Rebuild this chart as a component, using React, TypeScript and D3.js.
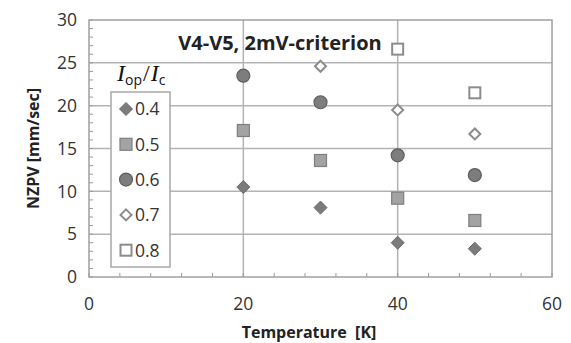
import React from "react";
import * as d3 from "d3";

const temperatures = [20, 30, 40, 50];
const ratios = ["0.4", "0.5", "0.6", "0.7", "0.8"];
const nzpv04 = [10.5, 8.1, 4.0, 3.3];
const nzpv05 = [17.1, 13.6, 9.2, 6.6];
const nzpv06 = [23.5, 20.4, 14.2, 11.9];
const nzpv07 = [null, 24.6, 19.5, 16.7];
const nzpv08 = [null, null, 26.6, 21.5];
const xTicks = [0, 20, 40, 60];
const yTicks = [0, 5, 10, 15, 20, 25, 30];
const seriesValues = [nzpv04, nzpv05, nzpv06, nzpv07, nzpv08];

type Shape = "diamond" | "square" | "circle" | "odiamond" | "osquare";
const shapes: Shape[] = ["diamond", "square", "circle", "odiamond", "osquare"];

const W = 571;
const H = 343;
const L = 89;
const R = 552;
const T = 20;
const B = 277;

function Marker({ shape, x, y }: { shape: Shape; x: number; y: number }) {
  switch (shape) {
    case "diamond":
      return (
        <path
          d={`M${x},${y - 6.5}L${x + 6.5},${y}L${x},${y + 6.5}L${x - 6.5},${y}Z`}
          fill="#7b7b7b"
          stroke="#6a6a6a"
          strokeWidth={1}
        />
      );
    case "square":
      return (
        <rect x={x - 6} y={y - 6} width={12} height={12} fill="#a3a3a3" stroke="#7f7f7f" strokeWidth={1.2} />
      );
    case "circle":
      return <circle cx={x} cy={y} r={6.5} fill="#7d7d7d" stroke="#5e5e5e" strokeWidth={1.2} />;
    case "odiamond":
      return (
        <path
          d={`M${x},${y - 5.5}L${x + 5.5},${y}L${x},${y + 5.5}L${x - 5.5},${y}Z`}
          fill="#fff"
          stroke="#8c8c8c"
          strokeWidth={2}
        />
      );
    case "osquare":
      return (
        <rect x={x - 5.5} y={y - 5.5} width={11} height={11} fill="#fff" stroke="#8c8c8c" strokeWidth={2} />
      );
  }
}

export default function App() {
  const x = d3.scaleLinear().domain([0, 60]).range([L, R]);
  const y = d3.scaleLinear().domain([0, 30]).range([B, T]);
  const xMinor = d3.range(0, 60.01, 4);
  const yMinor = d3.range(0, 30.01, 1);
  const grid = "#b3b3b3";
  const sans = "'Open Sans', 'Noto Sans', sans-serif";
  const serif = "'Liberation Serif', 'DejaVu Serif', serif";

  return (
    <svg
      width={W}
      height={H}
      style={{ position: "absolute", left: 0, top: 0, background: "#fff" }}
      fontFamily={sans}
    >
      {/* horizontal gridlines */}
      {yTicks.slice(1, -1).map((v) => (
        <line key={`hy${v}`} x1={L} x2={R} y1={y(v)} y2={y(v)} stroke={grid} strokeWidth={1.5} />
      ))}
      {/* vertical gridlines */}
      {xTicks.slice(1, -1).map((v) => (
        <line key={`vx${v}`} x1={x(v)} x2={x(v)} y1={T} y2={B} stroke={grid} strokeWidth={1.5} />
      ))}
      {/* minor ticks */}
      {xMinor.map((v) => (
        <line key={`mx${v}`} x1={x(v)} x2={x(v)} y1={B} y2={B - 4} stroke="#999" strokeWidth={1} />
      ))}
      {yMinor.map((v) => (
        <line key={`my${v}`} x1={L} x2={L + 4} y1={y(v)} y2={y(v)} stroke="#999" strokeWidth={1} />
      ))}
      {/* plot frame */}
      <rect x={L} y={T} width={R - L} height={B - T} fill="none" stroke="#a0a0a0" strokeWidth={1.5} />

      {/* tick labels */}
      {yTicks.map((v) => (
        <text key={`ty${v}`} x={77} y={y(v)} dy="0.36em" textAnchor="end" fontSize={17.5} fill="#333">
          {v}
        </text>
      ))}
      {xTicks.map((v) => (
        <text key={`tx${v}`} x={x(v)} y={304} dy="0.36em" textAnchor="middle" fontSize={17.5} fill="#333">
          {v}
        </text>
      ))}

      {/* axis titles */}
      <text
        transform={`translate(39,${(T + B) / 2}) rotate(-90)`}
        textAnchor="middle"
        fontSize={16}
        fontWeight="bold"
        fill="#222"
      >
        NZPV [mm/sec]
      </text>
      <text x={309} y={338} textAnchor="middle" fontSize={16} fontWeight="bold" fill="#222" xmlSpace="preserve">
        Temperature  [K]
      </text>

      {/* chart title */}
      <text x={280} y={43} dy="0.36em" textAnchor="middle" fontSize={20} fontWeight="bold" fill="#222">
        V4-V5, 2mV-criterion
      </text>

      {/* data points */}
      {seriesValues.map((vals, si) =>
        vals.map((v, i) =>
          v == null ? null : (
            <Marker key={`p${si}-${i}`} shape={shapes[si]} x={x(temperatures[i])} y={y(v)} />
          )
        )
      )}

      {/* legend */}
      <text x={117} y={81} fontSize={24} fill="#111">
        <tspan fontFamily={serif} fontStyle="italic">I</tspan>
        <tspan fontSize={14} dy={4} fontFamily={sans}>op</tspan>
        <tspan dy={-4} dx={1} fontFamily={serif} fontSize={24}>/</tspan>
        <tspan dx={1} fontFamily={serif} fontStyle="italic">I</tspan>
        <tspan fontSize={14} dy={4} fontFamily={sans}>c</tspan>
      </text>
      <rect x={111} y={92} width={59} height={175} fill="#fff" stroke="#a8a8a8" strokeWidth={1.5} />
      {ratios.map((r, i) => {
        const cy = 109 + i * 35.3;
        return (
          <g key={`lg${r}`}>
            <Marker shape={shapes[i]} x={126} y={cy} />
            <text x={135} y={cy} dy="0.36em" fontSize={17.5} fill="#333">
              {r}
            </text>
          </g>
        );
      })}
    </svg>
  );
}
